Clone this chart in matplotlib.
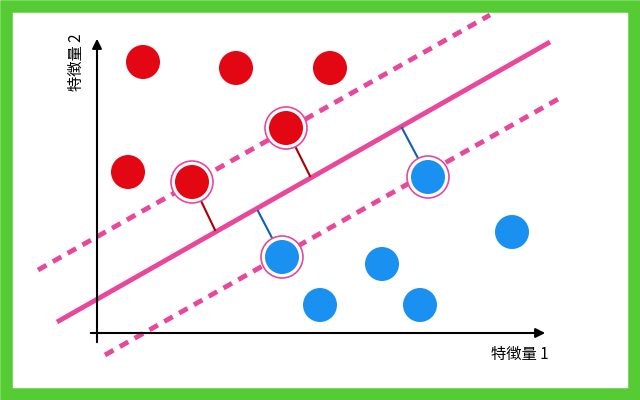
import matplotlib.pyplot as plt
from matplotlib.patches import Circle, Rectangle

plt.rcParams['font.family'] = ['Noto Sans CJK JP', 'DejaVu Sans']

# points in picture pixel coordinates (x right, y down)
red_x = [143, 236, 330, 128, 192, 286]
red_y = [62, 68, 68, 172, 182, 128]
blue_x = [282, 428, 382, 320, 420, 512]
blue_y = [257, 177, 264, 305, 305, 232]
support_red = [4, 5]
support_blue = [0, 1]
# foot points of the distance segments on the boundary
foot_red = [(215, 230), (310, 176)]
foot_blue = [(258, 211), (402, 128)]

main_line = [(57, 322), (550, 42)]
upper_line = [(38, 270), (490, 15)]
lower_line = [(105, 355), (560, 98)]

fig = plt.figure(figsize=(6.4, 4), dpi=100)
ax = fig.add_axes([0, 0, 1, 1])
ax.set_xlim(0, 640)
ax.set_ylim(400, 0)
ax.axis('off')

ax.add_patch(Rectangle((6, 6), 628, 388, fill=False, ec='#55cc33', lw=9))

pink = '#e8479a'
ax.plot(*zip(*main_line), color=pink, lw=3.5, solid_capstyle='butt')
ax.plot(*zip(*upper_line), color=pink, lw=3.5, ls=(0, (2, 1.5)))
ax.plot(*zip(*lower_line), color=pink, lw=3.5, ls=(0, (2, 1.5)))

# axes arrows
ax.annotate('', xy=(97, 36), xytext=(97, 345),
            arrowprops=dict(arrowstyle='-|>', color='black', lw=1.5, mutation_scale=14))
ax.annotate('', xy=(548, 333), xytext=(88, 333),
            arrowprops=dict(arrowstyle='-|>', color='black', lw=1.5, mutation_scale=14))
ax.text(76, 62, '特徴量 2', rotation=90, ha='center', va='center', fontsize=11)
ax.text(520, 354, '特徴量 1', ha='center', va='center', fontsize=11)

for i, f in zip(support_red, foot_red):
    ax.plot([red_x[i], f[0]], [red_y[i], f[1]], color='#aa0000', lw=1.5, zorder=2)
for i, f in zip(support_blue, foot_blue):
    ax.plot([blue_x[i], f[0]], [blue_y[i], f[1]], color='#1060b0', lw=1.5, zorder=2)

for xs, ys, col, sup in [(red_x, red_y, '#e30613', support_red),
                         (blue_x, blue_y, '#1a90f0', support_blue)]:
    for j, (x, y) in enumerate(zip(xs, ys)):
        if j in sup:
            ax.add_patch(Circle((x, y), 21, fc='white', ec=pink, lw=1.2, zorder=3))
        ax.add_patch(Circle((x, y), 17, fc=col, ec='none', zorder=4))

fig.savefig('out.png', dpi=100)
